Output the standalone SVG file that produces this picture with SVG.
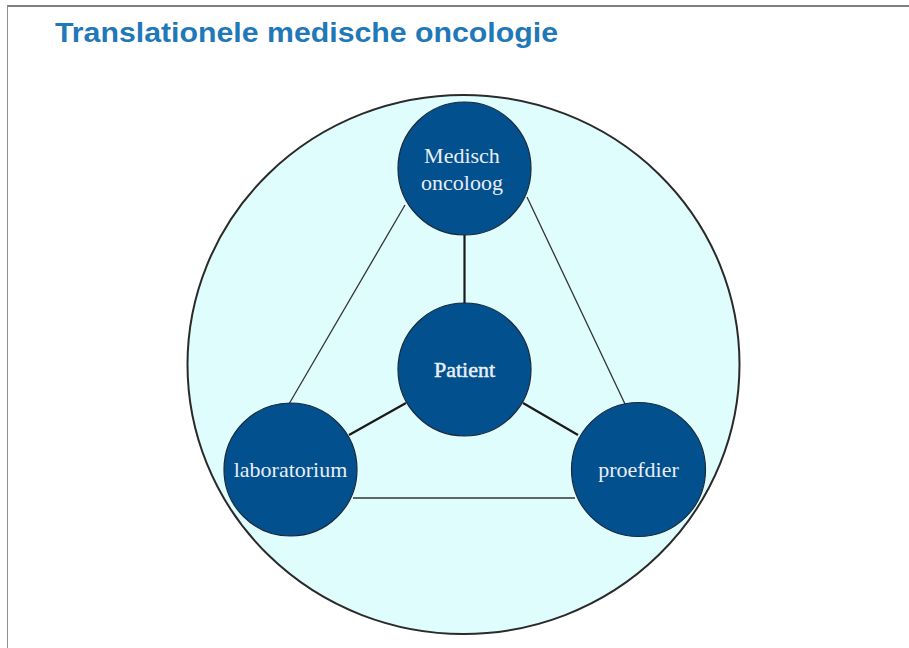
<svg xmlns="http://www.w3.org/2000/svg" width="909" height="648" viewBox="0 0 909 648">
  <style>
    .title { font-family: "Liberation Sans", Arial, sans-serif; font-weight: bold; font-size: 28px; fill: #1f78b8; }
    .node circle { fill: #03508f; stroke: #1a2a3a; stroke-width: 1.2; }
    .node text { font-family: "Liberation Serif", "Times New Roman", serif; font-size: 22px; fill: #e8eef5; text-anchor: middle; }
    .thin { stroke: #333; stroke-width: 1.3; fill: none; }
    .spoke { stroke: #1a1a1a; stroke-width: 2.2; fill: none; }
  </style>

  <rect x="0" y="0" width="909" height="648" fill="#ffffff"/>
  <!-- slide frame -->
  <line x1="7" y1="6" x2="909" y2="6" stroke="#808080" stroke-width="2"/>
  <line x1="7.5" y1="6" x2="7.5" y2="648" stroke="#909090" stroke-width="1"/>

  <text class="title" x="55" y="42" textLength="503" lengthAdjust="spacingAndGlyphs">Translationele medische oncologie</text>

  <!-- outer field -->
  <ellipse id="field" cx="463.5" cy="364.5" rx="276" ry="269.5" fill="#e0fdfe" stroke="#2a2a2a" stroke-width="2"/>

  <g id="connectors">
    <line class="thin" x1="405" y1="205" x2="289" y2="404"/>
    <line class="thin" x1="527" y1="197" x2="625" y2="404"/>
    <line class="thin" x1="353" y1="498" x2="575" y2="498"/>
    <line class="spoke" x1="464.5" y1="235" x2="464.5" y2="303"/>
    <line class="spoke" x1="406" y1="403" x2="349" y2="435"/>
    <line class="spoke" x1="523" y1="403" x2="578" y2="435"/>
  </g>

  <g id="medisch-oncoloog" class="node">
    <circle cx="464.5" cy="168.5" r="66.5"/>
    <text x="462" y="163">Medisch</text>
    <text x="462" y="190">oncoloog</text>
  </g>

  <g id="patient" class="node">
    <circle cx="464.5" cy="369.5" r="66.5"/>
    <text x="464.5" y="377" stroke="#e8eef5" stroke-width="0.5">Patient</text>
  </g>

  <g id="laboratorium" class="node">
    <circle cx="290.5" cy="469.5" r="66.5"/>
    <text x="290.5" y="477">laboratorium</text>
  </g>

  <g id="proefdier" class="node">
    <circle cx="638.5" cy="469.5" r="67"/>
    <text x="638.5" y="477">proefdier</text>
  </g>
</svg>
